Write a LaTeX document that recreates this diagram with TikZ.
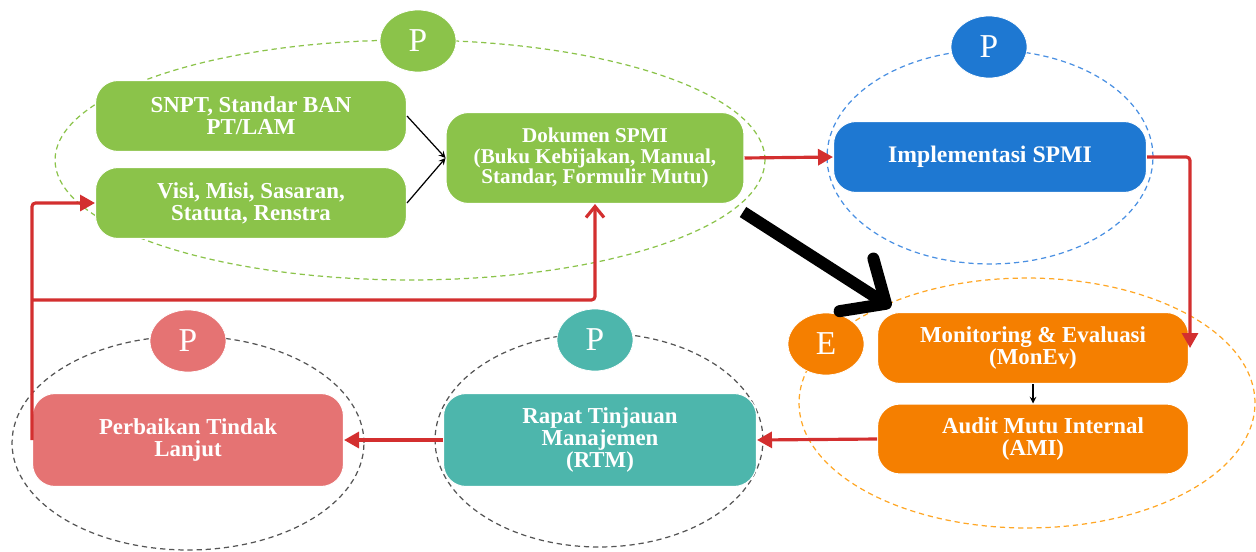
\documentclass[tikz,border=0pt]{standalone}
\usepackage{fontspec}
\setmainfont{Liberation Serif}
\usetikzlibrary{arrows.meta,shapes.geometric}
\definecolor{cgreen}{HTML}{8BC34A}
\definecolor{cblue}{HTML}{1E78D2}
\definecolor{corange}{HTML}{F57F00}
\definecolor{cpink}{HTML}{E57373}
\definecolor{cteal}{HTML}{4DB6AC}
\definecolor{cred}{HTML}{D32F2F}
\definecolor{ringblue}{HTML}{4A90E2}
\definecolor{ringorange}{HTML}{FFA726}
\definecolor{ringgray}{HTML}{555555}

\begin{document}
\begin{tikzpicture}[x=0.02cm, y=-0.02cm, >=stealth,
    box/.style={draw=white, line width=0.6pt, rounded corners=0.45cm, text=white,
        align=center, minimum width=6.22cm, minimum height=1.42cm,
        font=\fontsize{13}{12.6}\selectfont\bfseries},
    badge/.style={ellipse, draw=white, minimum width=1.52cm, minimum height=1.24cm,
        inner sep=0pt, text=white, font=\fontsize{19}{19}\selectfont},
    ring/.style={dash pattern=on 3pt off 2.2pt, line width=0.7pt},
    redline/.style={draw=cred, line width=1.8pt, rounded corners=2pt,
        -{Triangle[length=0.3cm, width=0.32cm]}},
    blackarrow/.style={->, line width=0.7pt}]
\useasboundingbox (0, 0) rectangle (1256, 551);

%% dashed rings
\draw [ring, draw=cgreen] (410, 160) ellipse [x radius=7.1cm, y radius=2.4cm];
\draw [ring, draw=ringblue] (990, 157) ellipse [x radius=3.26cm, y radius=2.14cm];
\draw [ring, draw=ringorange] (1027, 403) ellipse [x radius=4.56cm, y radius=2.5cm];
\draw [ring, draw=ringgray] (599, 440) ellipse [x radius=3.28cm, y radius=2.14cm];
\draw [ring, draw=ringgray] (188, 443) ellipse [x radius=3.52cm, y radius=2.14cm];

%% badges
\node [badge, fill=cgreen] (p-plan) at (418, 41) {P};
\node [badge, fill=cblue] (p-impl) at (989, 47) {P};
\node [badge, fill=corange] (e-eval) at (826, 344) {E};
\node [badge, fill=cteal] (p-rtm) at (595, 340) {P};
\node [badge, fill=cpink] (p-perb) at (188, 341) {P};

%% boxes
\node [box, fill=cgreen] (snpt) at (251, 116) {SNPT, Standar BAN\\PT/LAM};
\node [box, fill=cgreen] (visi) at (251, 203) {Visi, Misi, Sasaran,\\Statuta, Renstra};
\node [box, fill=cgreen, minimum width=5.96cm, minimum height=1.82cm,
    font=\fontsize{12}{11.6}\selectfont\bfseries] (dok) at (595, 158)
    {Dokumen SPMI\\(Buku Kebijakan, Manual,\\Standar, Formulir Mutu)};
\node [box, fill=cblue, minimum width=6.26cm, font=\fontsize{13.5}{13}\selectfont\bfseries]
    (impl) at (990, 157) {Implementasi SPMI};
\node [box, fill=corange] (monev) at (1033, 348) {Monitoring \& Evaluasi\\(MonEv)};
\node [box, fill=corange, minimum height=1.4cm] (ami) at (1033, 439) {\hspace*{0.4cm}Audit Mutu Internal\\(AMI)};
\node [box, fill=cteal, minimum width=6.26cm, minimum height=1.86cm] (rtm) at (600, 440)
    {Rapat Tinjauan\\Manajemen\\(RTM)};
\node [box, fill=cpink, minimum height=1.86cm] (perb) at (188, 440) {Perbaikan Tindak\\Lanjut};

%% connectors
\draw [blackarrow] (snpt.east) -- (dok.west);
\draw [blackarrow] (visi.east) -- (dok.west);
\draw [blackarrow] (monev.south) -- (ami.north);
\draw [redline] (dok.east) -- (impl.west);
\coordinate (monev-in) at (1190, 348);
\draw [redline] (impl.east) -| (monev-in);
\draw [redline] (ami.west) -- (rtm.east);
\draw [redline] (rtm.west) -- (perb.east);
\draw [redline] (perb.west) |- (visi.west);
\coordinate (fb) at (32, 300);
\draw [redline, -{Straight Barb[length=0.22cm, width=0.36cm]}] (fb) -| (dok.south);

%% big arrow
\coordinate (big-s) at (743, 212);
\coordinate (big-e) at (891, 307);
\draw [line width=0.24cm, -{Straight Barb[length=0.7cm, width=1.25cm, round]}] (big-s) -- (big-e);
\end{tikzpicture}
\end{document}
